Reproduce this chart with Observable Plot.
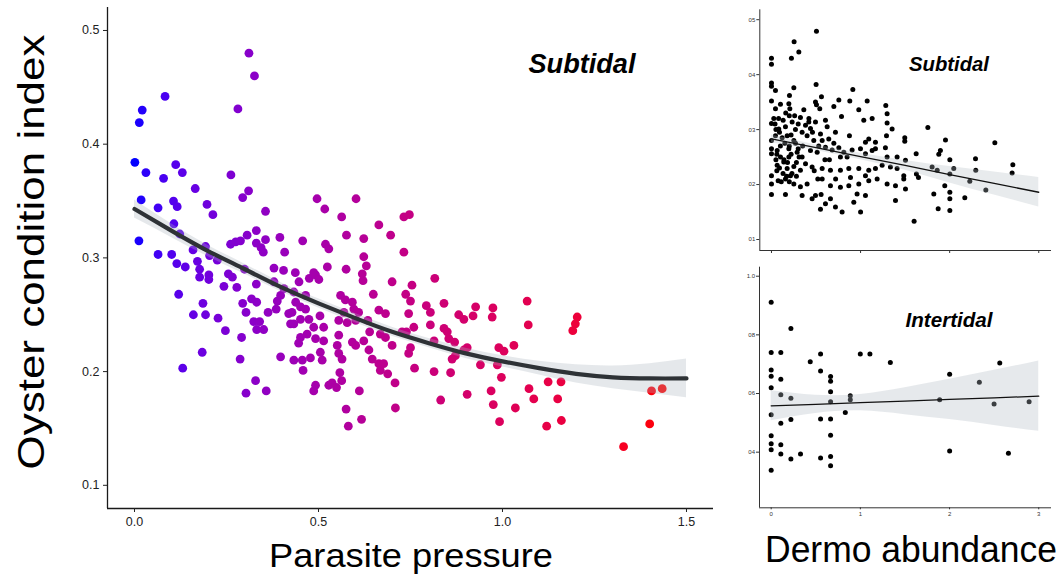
<!DOCTYPE html>
<html><head><meta charset="utf-8">
<script src="https://cdn.jsdelivr.net/npm/d3@7"></script>
<script src="https://cdn.jsdelivr.net/npm/@observablehq/plot@0.6"></script>
<style>
body{margin:0;background:#fff;}
#wrap{position:relative;width:1063px;height:575px;overflow:hidden;background:#fff;}
</style></head><body><div id="wrap"></div>
<script>
// ---------- Main panel: Subtidal, parasite pressure vs condition index ----------
const pressure = [0.311,0.326,0.281,0.083,0.021,0.013,0.001,0.031,0.079,0.112,0.130,0.165,0.262,0.310,0.294,0.018,0.064,0.106,0.116,0.197,0.213,0.356,0.012,0.107,0.123,0.159,0.064,0.101,0.115,0.138,0.171,0.177,0.193,0.204,0.177,0.202,0.202,0.225,0.261,0.275,0.288,0.306,0.331,0.331,0.356,0.344,0.350,0.395,0.408,0.457,0.255,0.266,0.299,0.331,0.243,0.278,0.379,0.405,0.379,0.437,0.447,0.475,0.492,0.501,0.487,0.524,0.519,0.528,0.576,0.575,0.496,0.517,0.563,0.602,0.732,0.747,0.664,0.696,0.623,0.732,0.623,0.630,0.619,0.621,0.700,0.754,0.816,0.649,0.737,0.750,0.793,0.804,0.841,0.745,0.560,0.573,0.592,0.596,0.664,0.682,0.609,0.406,0.433,0.465,0.438,0.451,0.465,0.428,0.451,0.474,0.433,0.504,0.555,0.569,0.578,0.601,0.634,0.487,0.514,0.759,0.804,0.841,0.120,0.186,0.160,0.193,0.227,0.247,0.291,0.184,0.131,0.287,0.329,0.303,0.358,0.397,0.294,0.318,0.332,0.303,0.363,0.385,0.324,0.340,0.332,0.351,0.397,0.388,0.419,0.424,0.555,0.639,0.451,0.469,0.492,0.514,0.446,0.433,0.456,0.458,0.478,0.505,0.510,0.551,0.555,0.564,0.592,0.601,0.623,0.637,0.646,0.664,0.668,0.677,0.688,0.558,0.563,0.492,0.487,0.528,0.537,0.549,0.611,0.708,0.575,0.617,0.581,0.709,0.668,0.682,0.700,0.727,0.739,0.750,0.745,0.761,0.814,0.814,0.832,0.850,0.854,0.859,0.881,0.895,0.927,0.920,0.974,0.972,1.067,1.070,1.203,1.198,1.191,0.870,0.904,0.895,0.872,0.863,0.990,1.004,1.031,0.940,0.986,0.997,1.124,1.159,1.072,1.085,1.150,0.969,0.904,0.975,1.035,0.992,1.120,1.160,1.329,1.400,1.405,1.434];
const condition = [0.480,0.460,0.431,0.442,0.430,0.419,0.384,0.375,0.370,0.382,0.375,0.361,0.373,0.359,0.353,0.351,0.344,0.350,0.345,0.347,0.338,0.341,0.315,0.330,0.321,0.307,0.303,0.303,0.295,0.292,0.297,0.290,0.310,0.302,0.283,0.285,0.281,0.298,0.312,0.314,0.315,0.320,0.324,0.313,0.316,0.309,0.305,0.318,0.305,0.315,0.286,0.283,0.290,0.277,0.275,0.274,0.291,0.289,0.279,0.287,0.279,0.282,0.285,0.281,0.287,0.292,0.312,0.308,0.320,0.290,0.352,0.343,0.336,0.352,0.336,0.338,0.329,0.320,0.317,0.305,0.301,0.293,0.286,0.280,0.279,0.276,0.282,0.268,0.268,0.262,0.258,0.252,0.260,0.251,0.267,0.263,0.261,0.255,0.254,0.251,0.252,0.273,0.270,0.267,0.261,0.257,0.255,0.252,0.246,0.246,0.242,0.249,0.245,0.252,0.243,0.245,0.245,0.239,0.239,0.239,0.241,0.238,0.268,0.260,0.250,0.250,0.247,0.236,0.230,0.217,0.203,0.211,0.192,0.181,0.183,0.213,0.260,0.264,0.261,0.252,0.252,0.255,0.244,0.244,0.237,0.237,0.267,0.262,0.251,0.242,0.232,0.235,0.230,0.233,0.229,0.227,0.225,0.210,0.210,0.201,0.212,0.217,0.210,0.223,0.216,0.211,0.226,0.223,0.227,0.219,0.211,0.207,0.201,0.207,0.198,0.199,0.192,0.188,0.183,0.188,0.190,0.186,0.183,0.190,0.167,0.158,0.152,0.168,0.233,0.230,0.223,0.235,0.235,0.221,0.216,0.203,0.227,0.200,0.175,0.235,0.229,0.199,0.250,0.246,0.257,0.249,0.256,0.248,0.262,0.241,0.248,0.242,0.236,0.226,0.221,0.219,0.214,0.211,0.221,0.218,0.223,0.206,0.206,0.195,0.191,0.191,0.185,0.176,0.176,0.183,0.180,0.171,0.168,0.156,0.152,0.157,0.134,0.154,0.183,0.185];
// fitted smooth: x, fit, half-width of confidence band
const fitX = [0,0.1,0.2,0.3,0.4,0.5,0.6,0.7,0.8,0.9,1.0,1.1,1.2,1.3,1.4,1.5];
const fitY = [0.343,0.324,0.306,0.290,0.274,0.260,0.247,0.235,0.225,0.216,0.209,0.203,0.198,0.195,0.194,0.194];
const fitBand = [0.008,0.006,0.005,0.0045,0.004,0.004,0.004,0.004,0.004,0.0045,0.005,0.006,0.008,0.010,0.013,0.017];
const mainXTicks = [0,0.5,1.0,1.5];
const mainYTicks = [0.1,0.2,0.3,0.4,0.5];

// ---------- Top-right: Subtidal, Dermo abundance ----------
const dermoSub = [0,0,0.224,0.254,0.307,0.505,
0,0,0.045,0.251,0.501,0.913,
0.202,0.561,0,0.494,0.505,0.756,0.879,1.074,0.101,0.195,0.206,0.363,0.542,0.700,0.980,1.283,0.045,
0.026,0.131,0.232,0.325,0.419,0.494,0.606,0.786,1.036,1.130,1.298,1.298,0.382,0.625,0,
0,0.082,0.157,0.269,0.344,0.438,0.550,0.643,0.718,0.875,1.092,1.055,1.167,1.496,1.496,1.291,1.354,0.045,0.176,0.251,0.400,0.475,0.569,
0,0,0.064,0.101,0.195,0.288,0.344,0.438,0.513,0.606,0.681,0.756,0.812,0.905,0.999,1.055,1.130,1.167,1.279,1.298,1.410,1.504,0.195,0.774,0.849,
0,0.064,0.138,0.176,0.251,0.325,0.382,0.456,0.569,0.662,0.774,0.868,0.980,1.055,1.092,1.167,1.242,1.335,1.410,1.485,0.213,0.887,
0,0.075,0.157,0.251,0.325,0.400,0.569,0.662,0.774,0.868,0.980,1.092,1.186,1.298,1.392,1.485,1.504,
0,0.157,0.344,0.456,0.557,0.606,0.662,0.550,0.718,0.793,0.924,1.0,0.961,1.055,1.392,0.494,
1.755,1.953,1.896,1.878,2.507,2.290,2.709,2.701,2.293,2.226,2.406,2.170,2.002,2.046,2.002,2.002,2.002,2.002,1.945,1.822,1.871,1.803,1.860,1.624,1.627,1.650,1.601,
0.05,0.09,0.12,0.15,0.20,0.22,0.27,0.30,0.35,0.06,0.10,0.14,0.18,0.22,0.28,0.31,0.05,0.09,0.13,0.17,0.20,0.23,0.28,0.11,0.06,0.04,0.08,0.16,0.26,0.30,0.20,0.42,0.46,0.53,0.60,0.70,0.65,0.72,0.52,0.48];
const condSub = [0.430,0.419,0.430,0.460,0.441,0.479,
0.385,0.379,0.371,0.376,0.382,0.373,
0.362,0.360,0.352,0.350,0.345,0.354,0.352,0.352,0.346,0.347,0.338,0.336,0.338,0.342,0.336,0.344,0.338,
0.320,0.317,0.314,0.322,0.314,0.314,0.317,0.324,0.317,0.320,0.329,0.312,0.308,0.305,0.311,
0.280,0.301,0.305,0.300,0.295,0.302,0.292,0.283,0.295,0.289,0.283,0.277,0.277,0.285,0.279,0.289,0.301,0.289,0.289,0.280,0.289,0.280,0.280,
0.265,0.256,0.262,0.250,0.265,0.259,0.250,0.262,0.259,0.268,0.263,0.267,0.259,0.263,0.265,0.256,0.262,0.265,0.267,0.250,0.250,0.244,0.250,0.250,0.250,
0.216,0.235,0.241,0.229,0.233,0.226,0.238,0.232,0.229,0.226,0.226,0.229,0.229,0.216,0.226,0.229,0.235,0.232,0.229,0.216,0.216,0.213,
0.201,0.207,0.210,0.201,0.196,0.201,0.210,0.198,0.195,0.198,0.201,0.207,0.210,0.201,0.198,0.210,0.192,
0.182,0.182,0.180,0.174,0.182,0.165,0.174,0.155,0.159,0.150,0.168,0.150,0.183,0.180,0.171,0.180,
0.304,0.281,0.262,0.255,0.276,0.247,0.236,0.221,0.226,0.206,0.190,0.176,0.245,0.229,0.219,0.186,0.174,0.153,0.198,0.183,0.156,0.232,0.226,0.256,0.219,0.213,0.133,
0.300,0.295,0.285,0.275,0.270,0.290,0.275,0.265,0.270,0.255,0.270,0.245,0.240,0.255,0.240,0.250,0.245,0.230,0.220,0.215,0.205,0.220,0.215,0.205,0.225,0.310,0.320,0.330,0.325,0.310,0.325,0.320,0.295,0.270,0.245,0.275,0.245,0.210,0.210,0.225];
const fitXs = [0,0.5,1,1.5,2,2.5,3];
const fitYs = [0.283,0.267,0.251,0.235,0.218,0.202,0.186];
const bandS = [0.007,0.005,0.006,0.009,0.015,0.021,0.027];
const subYTicks = [0.1,0.2,0.3,0.4,0.5];
const subYLabels = ["01","02","03","04","05"];
const dermoTicks = [0,1,2,3];

// ---------- Bottom-right: Intertidal ----------
const dermoInt = [0,0,0,0,0,0,0,0,0,0,0.108,0.108,0.108,0.108,0.108,0.108,0.221,0.221,0.221,0.221,0.329,0.438,0.554,0.554,0.554,0.554,0.666,0.666,0.666,0.666,0.666,0.666,0.666,0.666,0.831,0.887,0.887,0.999,1.107,1.336,1.889,2.001,2.001,2.334,2.499,2.563,2.660,2.892];
const condInt = [0.911,0.740,0.680,0.659,0.620,0.528,0.456,0.429,0.408,0.338,0.740,0.649,0.596,0.499,0.425,0.394,0.822,0.584,0.511,0.377,0.394,0.708,0.735,0.677,0.513,0.380,0.658,0.642,0.606,0.572,0.513,0.458,0.385,0.354,0.535,0.592,0.579,0.735,0.735,0.706,0.579,0.666,0.404,0.638,0.564,0.704,0.396,0.572];
const fitYi = [0.558,0.563,0.569,0.574,0.580,0.585,0.591];
const bandI = [0.051,0.031,0.028,0.046,0.069,0.094,0.120];
const intYTicks = [0.4,0.6,0.8,1.0];
const intYLabels = ["04","06","08","1.0"];

// ---------- texts ----------
const panelLabels = ["Subtidal","Subtidal","Intertidal"];
const axisTitles = ["Oyster condition index","Parasite pressure","Dermo abundance"];

const FONT = "'Liberation Sans', Arial, Helvetica, sans-serif";
const wrap = document.getElementById("wrap");
function place(el, left, top){
  el.style.position = "absolute"; el.style.left = left + "px"; el.style.top = top + "px";
  wrap.appendChild(el);
}

// Main plot
const mainData = pressure.map((x,i)=>({x, y: condition[i]}));
const mainFit = fitX.map((x,i)=>({x, y: fitY[i], lo: fitY[i]-fitBand[i], hi: fitY[i]+fitBand[i]}));
const mX = [-0.0734, 1.5734], mY = [0.0796, 0.5202];
const mainPlot = Plot.plot({
  width: 720, height: 535, marginLeft: 107, marginRight: 7, marginTop: 7, marginBottom: 27,
  x: {domain: mX}, y: {domain: mY},
  color: {type: "linear", domain: [0, 1.434], range: ["#0000ff", "#ff0000"], interpolate: "lab"},
  style: {fontFamily: FONT, fontSize: "12.5px", color: "#222", background: "transparent"},
  marks: [
    Plot.dot(mainData, {x: "x", y: "y", r: 4.4, fill: d => d.x, stroke: null}),
    Plot.areaY(mainFit, {x: "x", y1: "lo", y2: "hi", fill: "#aab4bc", fillOpacity: 0.3, curve: "natural"}),
    Plot.line(mainFit, {x: "x", y: "y", stroke: "#2e3236", strokeWidth: 4.2, curve: "natural"}),
    Plot.ruleX([mX[0]], {stroke: "#1a1a1a", strokeWidth: 1.3}),
    Plot.ruleY([mY[0]], {stroke: "#1a1a1a", strokeWidth: 1.3}),
    Plot.axisX({ticks: mainXTicks, tickFormat: d3.format(".1f"), tickSize: 4, tickPadding: 5, label: null}),
    Plot.axisY({ticks: mainYTicks, tickFormat: d3.format(".1f"), tickSize: 4, tickPadding: 4, label: null})
  ]
});
place(mainPlot, 0, 0);

// Top-right plot
const sData = dermoSub.map((x,i)=>({x, y: condSub[i]}));
const sFit = fitXs.map((x,i)=>({x, y: fitYs[i], lo: fitYs[i]-bandS[i], hi: fitYs[i]+bandS[i]}));
const sX = [-0.131, 3.143], sY = [0.080, 0.518];
const subPlot = Plot.plot({
  width: 343, height: 262, marginLeft: 39.3, marginRight: 12, marginTop: 9.3, marginBottom: 12,
  x: {domain: sX}, y: {domain: sY},
  style: {fontFamily: FONT, fontSize: "6px", color: "#333", background: "transparent"},
  marks: [
    Plot.dot(sData, {x: "x", y: "y", r: 2.5, fill: "#000", stroke: null}),
    Plot.areaY(sFit, {x: "x", y1: "lo", y2: "hi", fill: "#b4bcc4", fillOpacity: 0.3, curve: "natural"}),
    Plot.line(sFit, {x: "x", y: "y", stroke: "#111", strokeWidth: 1.3}),
    Plot.ruleX([sX[0]], {stroke: "#333", strokeWidth: 1}),
    Plot.ruleY([sY[0]], {stroke: "#333", strokeWidth: 1}),
    Plot.axisX({ticks: dermoTicks, tickFormat: () => "", tickSize: 3, label: null}),
    Plot.axisY({ticks: subYTicks, tickFormat: d => subYLabels[subYTicks.indexOf(d)], tickSize: 3, tickPadding: 1.5, label: null})
  ]
});
place(subPlot, 720, 0);

// Bottom-right plot
const iData = dermoInt.map((x,i)=>({x, y: condInt[i]}));
const iFit = fitXs.map((x,i)=>({x, y: fitYi[i], lo: fitYi[i]-bandI[i], hi: fitYi[i]+bandI[i]}));
const iX = [-0.131, 3.143], iY = [0.2103, 1.0307];
const intPlot = Plot.plot({
  width: 343, height: 262, marginLeft: 39, marginRight: 12, marginTop: 4.7, marginBottom: 16.7,
  x: {domain: iX}, y: {domain: iY},
  style: {fontFamily: FONT, fontSize: "6px", color: "#333", background: "transparent"},
  marks: [
    Plot.dot(iData, {x: "x", y: "y", r: 2.5, fill: "#000", stroke: null}),
    Plot.areaY(iFit, {x: "x", y1: "lo", y2: "hi", fill: "#b4bcc4", fillOpacity: 0.33, curve: "natural"}),
    Plot.line(iFit, {x: "x", y: "y", stroke: "#111", strokeWidth: 1.3}),
    Plot.ruleX([iX[0]], {stroke: "#333", strokeWidth: 1}),
    Plot.ruleY([iY[0]], {stroke: "#333", strokeWidth: 1}),
    Plot.axisX({ticks: dermoTicks, tickFormat: d3.format("d"), tickSize: 2, tickPadding: 1.5, label: null}),
    Plot.axisY({ticks: intYTicks, tickFormat: d => intYLabels[intYTicks.indexOf(d)], tickSize: 3, tickPadding: 1.5, label: null})
  ]
});
place(intPlot, 720, 262);

// Text overlay
const ov = d3.create("svg").attr("width", 1063).attr("height", 575)
  .style("position", "absolute").style("left", "0px").style("top", "0px").style("pointer-events", "none")
  .style("font-family", FONT);
function label(txt, x, y, size, len, opts = {}) {
  const t = ov.append("text").attr("x", x).attr("y", y).attr("text-anchor", "middle")
    .attr("font-size", size).attr("fill", "#000").text(txt);
  if (len) t.attr("textLength", len).attr("lengthAdjust", "spacingAndGlyphs");
  if (opts.bold) t.attr("font-weight", "bold").attr("font-style", "italic");
  if (opts.rotate) t.attr("transform", `rotate(-90 ${x} ${y})`);
  return t;
}
label(panelLabels[0], 582, 73, 27, 107, {bold: true});
label(panelLabels[1], 949, 71, 20, 80, {bold: true});
label(panelLabels[2], 949, 326.5, 20, 87, {bold: true});
label(axisTitles[0], 44, 252, 37, 435, {rotate: true});
label(axisTitles[1], 411, 566.5, 32.5, 284);
label(axisTitles[2], 911, 562, 36, 292);
wrap.appendChild(ov.node());
</script></body></html>
